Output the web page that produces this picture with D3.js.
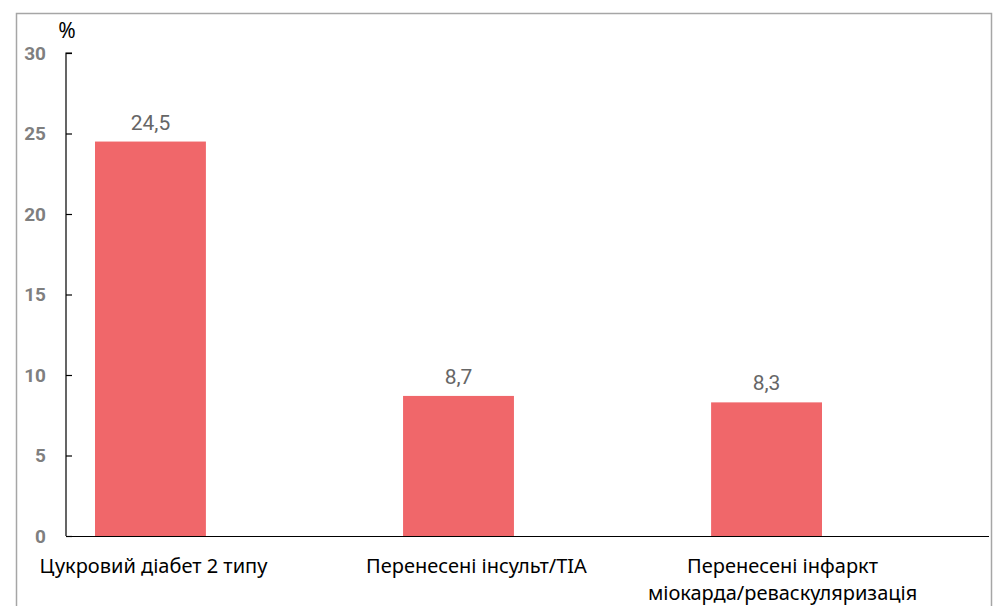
<!DOCTYPE html>
<html>
<head>
<meta charset="utf-8">
<script src="https://cdn.jsdelivr.net/npm/d3@7"></script>
<style>
  html, body { margin: 0; padding: 0; background: #fff; }
  svg { display: block; }
</style>
</head>
<body>
<svg id="chart" width="999" height="606"></svg>
<script>
// Prevalence of comorbidities, %
const categories = [
  ["Цукровий діабет 2 типу"],
  ["Перенесені інсульт/TIA"],
  ["Перенесені інфаркт", "міокарда/реваскуляризація"]
];
const values = [24.5, 8.7, 8.3];
const valueLabels = ["24,5", "8,7", "8,3"];
const yTicks = [0, 5, 10, 15, 20, 25, 30];
const unitLabel = "%";

const svg = d3.select("#chart");

// outer frame
svg.append("rect")
  .attr("x", 16.5).attr("y", 13.5)
  .attr("width", 975).attr("height", 620)
  .attr("fill", "none").attr("stroke", "#a6a6a6").attr("stroke-width", 1.5);

const axisX = 66, baseY = 536, topY = 53, axisRight = 989;

const y = d3.scaleLinear().domain([0, 30]).range([baseY, topY]);
const x = d3.scaleBand()
  .domain(d3.range(categories.length))
  .range([95, 822])
  .paddingInner(0.64)
  .paddingOuter(0);

// label nudges relative to bar centre
const labelShift = [3, 18, 16];

// y axis
const yAxis = d3.axisRight(y).tickValues(yTicks).tickSize(6).tickFormat("");
const gy = svg.append("g").attr("transform", `translate(${axisX},0)`).call(yAxis);
gy.select(".domain").attr("stroke", "#000").attr("stroke-width", 1.2)
  .attr("d", `M6,${topY}H0V${baseY}`);
gy.selectAll(".tick line").attr("stroke", "#000").attr("stroke-width", 1.2);

svg.append("g").selectAll("text").data(yTicks).join("text")
  .attr("x", 46).attr("y", d => y(d))
  .attr("dy", "0.36em")
  .attr("text-anchor", "end")
  .attr("font-family", "Roboto, 'Noto Sans', sans-serif")
  .attr("font-weight", 700)
  .attr("font-size", 19)
  .attr("fill", "#7f7f7f")
  .text(d => d);

svg.append("text")
  .attr("x", 67).attr("y", 38)
  .attr("text-anchor", "middle")
  .attr("font-family", "'Noto Sans', sans-serif")
  .attr("font-size", 21)
  .attr("fill", "#000")
  .text(unitLabel);

// bars
svg.append("g").selectAll("rect").data(values).join("rect")
  .attr("x", (d, i) => x(i))
  .attr("y", d => y(d))
  .attr("width", x.bandwidth())
  .attr("height", d => y(0) - y(d))
  .attr("fill", "#f0676a");

// x axis line
svg.append("line")
  .attr("x1", axisX).attr("x2", axisRight)
  .attr("y1", baseY + 0.5).attr("y2", baseY + 0.5)
  .attr("stroke", "#000").attr("stroke-width", 1.2);

// value labels
svg.append("g").selectAll("text").data(values).join("text")
  .attr("x", (d, i) => x(i) + x.bandwidth() / 2)
  .attr("y", d => y(d) - 12)
  .attr("text-anchor", "middle")
  .attr("font-family", "Roboto, 'Noto Sans', sans-serif")
  .attr("font-size", 21)
  .attr("fill", "#666")
  .text((d, i) => valueLabels[i]);

// category labels
const cat = svg.append("g").selectAll("text").data(categories).join("text")
  .attr("text-anchor", "middle")
  .attr("font-family", "'Noto Sans', sans-serif")
  .attr("font-size", 20)
  .attr("fill", "#000");
cat.each(function(lines, i) {
  const cx = x(i) + x.bandwidth() / 2 + labelShift[i];
  d3.select(this).selectAll("tspan").data(lines).join("tspan")
    .attr("x", cx)
    .attr("y", (d, j) => 573 + j * 27)
    .text(d => d);
});
</script>
</body>
</html>
